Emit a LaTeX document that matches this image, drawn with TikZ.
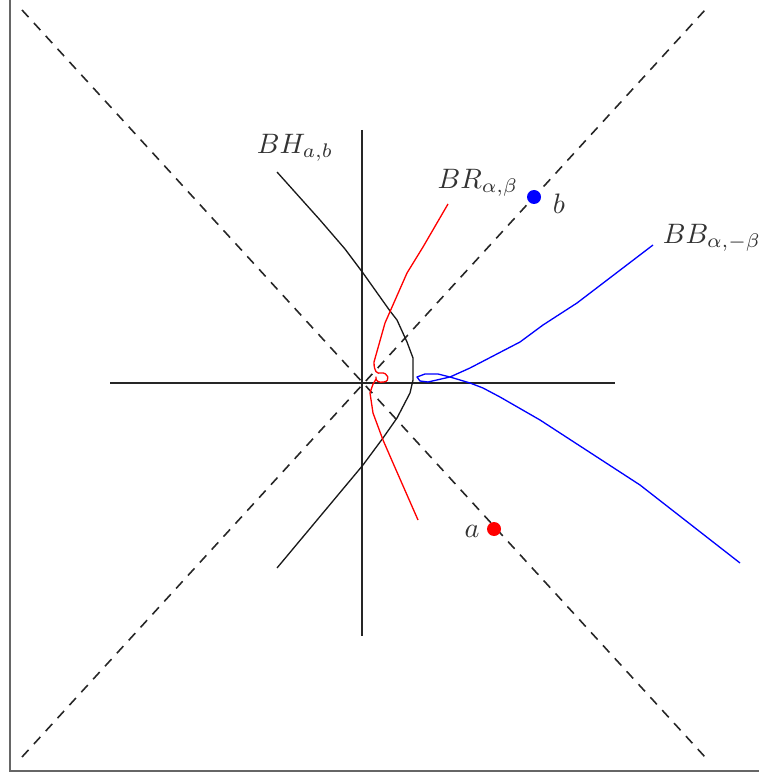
\documentclass[tikz,border=0pt]{standalone}
\begin{document}
\begin{tikzpicture}[x=0.02cm,y=-0.02cm,
  axis/.style={line width=0.75pt,black!85},
  diag/.style={line width=0.9pt,black!85,dash pattern=on 5.5pt off 4.5pt},
  curve/.style={line width=0.75pt,line join=round},
  frame/.style={line width=0.7pt,black!60},
  lbl/.style={text=black!80,inner sep=0pt},
  dot/.style={circle,inner sep=0pt,minimum size=0.28cm}]
\useasboundingbox (0,0) rectangle (759,776);
% frame
\draw[frame] (10,0) -- (10,771) -- (759,771);
% dashed diagonals
\coordinate (d1) at (22,10);
\coordinate (d2) at (705,757);
\coordinate (d3) at (22,757);
\coordinate (d4) at (705,10);
\draw[diag] (d1) -- (d2);
\draw[diag] (d3) -- (d4);
% axes
\coordinate (xl) at (110,383);
\coordinate (xr) at (615,383);
\coordinate (yt) at (362,130);
\coordinate (yb) at (362,636);
\draw[axis] (xl) -- (xr);
\draw[axis] (yt) -- (yb);
% black curve BH
\draw[curve,black!90] (277,172) -- (320,220) -- (345,249) -- (363,273) -- (390,311) -- (397,320)
  -- (407,342) -- (413,358) -- (413,380) -- (410,393) -- (397,418) -- (383,438)
  -- (363,465) -- (277,568);
% red curve BR
\draw[curve,red] (448,204) -- (423,247) -- (407,273) -- (385,323) -- (374,362)
  .. controls (374,372) and (377,374) .. (381,373)
  .. controls (388,372) and (391,381) .. (384,382)
  .. controls (379,383) and (375,381) .. (376,377)
  .. controls (377,380) and (373,382) .. (372,387)
  -- (370,393) -- (373,413) -- (383,440) -- (393,463) -- (418,520);
% blue curve BB
\draw[curve,blue] (653,245) -- (577,303) -- (543,325) -- (520,342) -- (470,368) -- (450,377)
  -- (428,382) -- (420,381) -- (417,377) -- (425,374) -- (438,374) -- (450,377)
  -- (470,383) -- (483,388) -- (500,397) -- (540,420) -- (640,485) -- (740,563);
% points
\node[dot,fill=red] (pa) at (494,529) {};
\node[dot,fill=blue] (pb) at (534,197) {};
\node[lbl] (la) at (472,531) {\scalebox{1.6}{$a$}};
\node[lbl] (lb) at (559,204) {\scalebox{1.6}{$b$}};
% curve labels
\node[lbl] (lbh) at (295,148) {\scalebox{1.6}{$BH_{a,b}$}};
\node[lbl] (lbr) at (478,183) {\scalebox{1.6}{$BR_{\alpha,\beta}$}};
\node[lbl] (lbb) at (712,238) {\scalebox{1.6}{$BB_{\alpha,-\beta}$}};
\end{tikzpicture}
\end{document}
